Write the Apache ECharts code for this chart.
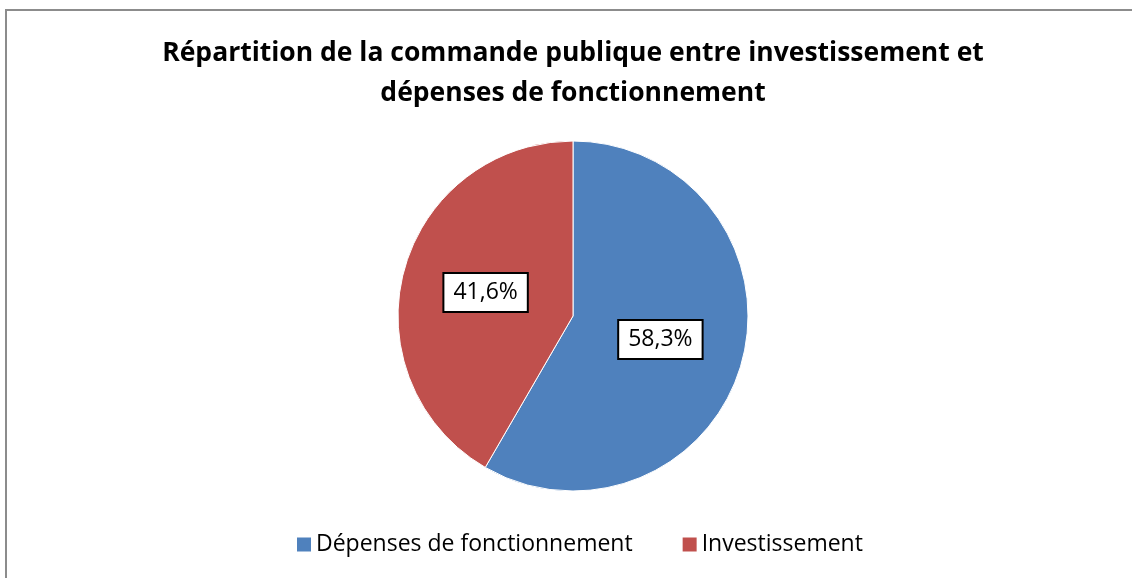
<!DOCTYPE html>
<html>
<head>
<meta charset="utf-8">
<script src="https://cdn.jsdelivr.net/npm/echarts@6/dist/echarts.min.js"></script>
<style>
  html, body { margin: 0; padding: 0; background: #fff; overflow: hidden; }
  #frame { position: absolute; left: 5px; top: 9px; width: 1200px; height: 700px; border: 2px solid #8c8c8c; box-sizing: border-box; }
  #chart { position: absolute; left: 0; top: 0; width: 1146px; height: 578px; }
</style>
</head>
<body>
<div id="frame"></div>
<div id="chart"></div>
<script>
  // données du graphique
  var categories = ['Dépenses de fonctionnement', 'Investissement'];
  var values = [58.3, 41.6];
  var colors = ['#4F81BD', '#C0504D'];

  var pieData = [];
  for (var i = 0; i < categories.length; i++) {
    pieData.push({ name: categories[i], value: values[i], itemStyle: { color: colors[i] } });
  }

  var chart = echarts.init(document.getElementById('chart'));
  var option = {
    animation: false,
    title: {
      text: 'Répartition de la commande publique entre investissement et\ndépenses de fonctionnement',
      left: 'center',
      top: 28,
      textStyle: {
        fontFamily: 'Open Sans',
        fontWeight: 'bold',
        fontSize: 26.5,
        lineHeight: 40,
        color: '#000'
      }
    },
    legend: {
      bottom: 17,
      left: 292,
      itemWidth: 14,
      itemHeight: 14,
      itemGap: 50,
      itemStyle: { borderWidth: 0 },
      icon: 'rect',
      textStyle: { fontFamily: 'Open Sans', fontSize: 23, color: '#000' },
      data: categories
    },
    series: [{
      type: 'pie',
      center: [573, 316],
      radius: 175,
      startAngle: 90,
      clockwise: true,
      itemStyle: { borderColor: '#fff', borderWidth: 1 },
      label: {
        position: 'inside',
        formatter: function (p) { return p.value.toFixed(1).replace('.', ',') + '%'; },
        fontFamily: 'Open Sans',
        fontSize: 23,
        color: '#000',
        backgroundColor: '#fff',
        borderColor: '#000',
        borderWidth: 2,
        padding: [8, 9, 6, 9]
      },
      labelLine: { show: false },
      data: pieData
    }]
  };
  chart.setOption(option);
</script>
</body>
</html>
